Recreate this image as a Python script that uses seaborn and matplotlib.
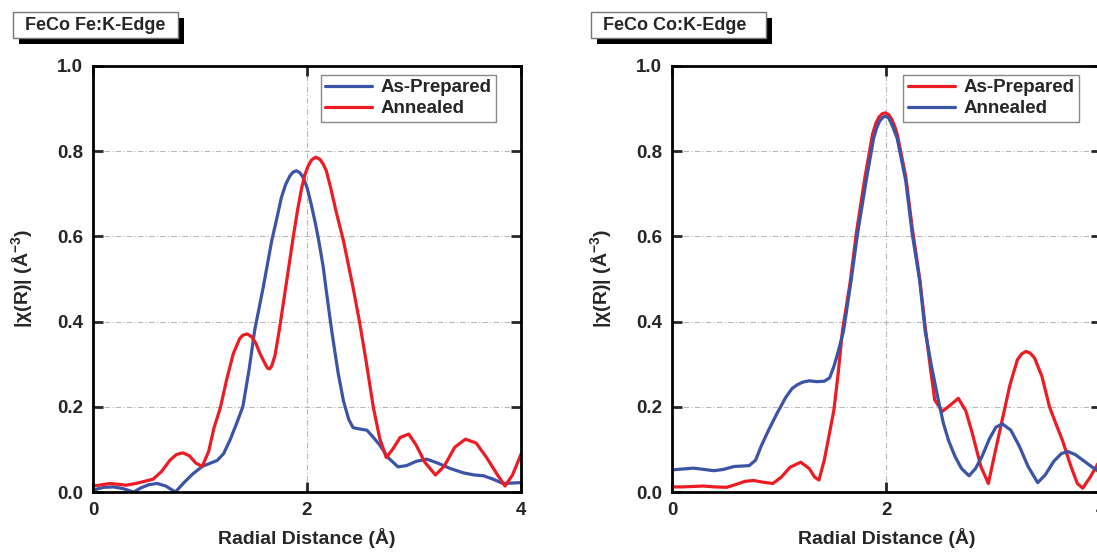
import matplotlib
matplotlib.use("Agg")
import numpy as np
import pandas as pd
import seaborn as sns
import matplotlib.pyplot as plt
from matplotlib.patches import Rectangle

# ---------------- data ----------------
fe_prep_x = [0.00, 0.05, 0.10, 0.19, 0.28, 0.38, 0.45, 0.52, 0.60, 0.68, 0.77, 0.85, 0.93, 1.02,
             1.10, 1.16, 1.22, 1.28, 1.34, 1.40, 1.46, 1.51, 1.59, 1.67, 1.72, 1.76, 1.80, 1.84,
             1.87, 1.90, 1.93, 1.96, 2.00, 2.04, 2.08, 2.11, 2.15, 2.18, 2.23, 2.29, 2.34, 2.39,
             2.43, 2.49, 2.56, 2.62, 2.68, 2.76, 2.85, 2.93, 3.02, 3.12, 3.22, 3.34, 3.46, 3.56,
             3.65, 3.74, 3.83, 3.91, 4.00]
fe_prep_y = [0.003, 0.008, 0.011, 0.012, 0.008, 0.000, 0.010, 0.017, 0.020, 0.014, 0.000, 0.022,
             0.042, 0.060, 0.068, 0.074, 0.090, 0.122, 0.160, 0.200, 0.290, 0.379, 0.480, 0.590,
             0.645, 0.691, 0.722, 0.742, 0.751, 0.754, 0.750, 0.740, 0.715, 0.674, 0.628, 0.589,
             0.530, 0.472, 0.379, 0.280, 0.214, 0.170, 0.151, 0.148, 0.145, 0.128, 0.110, 0.080,
             0.059, 0.062, 0.072, 0.077, 0.068, 0.055, 0.045, 0.040, 0.038, 0.030, 0.020, 0.021,
             0.022]

fe_ann_x = [0.00, 0.08, 0.16, 0.24, 0.31, 0.40, 0.48, 0.56, 0.64, 0.72, 0.78, 0.84, 0.90, 0.96,
            1.02, 1.08, 1.13, 1.19, 1.25, 1.31, 1.37, 1.40, 1.44, 1.48, 1.52, 1.56, 1.61, 1.63,
            1.65, 1.67, 1.70, 1.74, 1.81, 1.87, 1.91, 1.95, 1.98, 2.01, 2.04, 2.08, 2.12, 2.15,
            2.18, 2.22, 2.27, 2.34, 2.43, 2.49, 2.55, 2.62, 2.68, 2.74, 2.80, 2.87, 2.95, 3.02,
            3.10, 3.20, 3.28, 3.38, 3.48, 3.58, 3.68, 3.78, 3.85, 3.92, 4.00]
fe_ann_y = [0.014, 0.017, 0.020, 0.018, 0.016, 0.020, 0.025, 0.030, 0.048, 0.075, 0.088, 0.092,
            0.085, 0.068, 0.060, 0.095, 0.150, 0.198, 0.265, 0.324, 0.360, 0.368, 0.371, 0.365,
            0.350, 0.325, 0.300, 0.291, 0.289, 0.296, 0.320, 0.379, 0.496, 0.597, 0.660, 0.714,
            0.745, 0.765, 0.779, 0.786, 0.781, 0.770, 0.754, 0.715, 0.660, 0.590, 0.480, 0.400,
            0.310, 0.198, 0.125, 0.081, 0.100, 0.128, 0.136, 0.110, 0.070, 0.040, 0.060, 0.105,
            0.124, 0.115, 0.080, 0.040, 0.014, 0.040, 0.089]

co_prep_x = [0.00, 0.10, 0.20, 0.29, 0.40, 0.51, 0.60, 0.68, 0.76, 0.85, 0.94, 1.02, 1.10, 1.20,
             1.28, 1.33, 1.37, 1.42, 1.47, 1.51, 1.55, 1.59, 1.66, 1.72, 1.80, 1.87, 1.90, 1.93,
             1.96, 1.99, 2.02, 2.05, 2.08, 2.10, 2.18, 2.24, 2.31, 2.36, 2.41, 2.45, 2.52, 2.60,
             2.67, 2.74, 2.80, 2.88, 2.95, 3.01, 3.08, 3.15, 3.22, 3.26, 3.30, 3.34, 3.38, 3.45,
             3.52, 3.58, 3.64, 3.72, 3.78, 3.83, 3.90, 4.00]
co_prep_y = [0.012, 0.012, 0.013, 0.014, 0.012, 0.011, 0.018, 0.025, 0.027, 0.023, 0.020, 0.035,
             0.058, 0.070, 0.055, 0.035, 0.028, 0.075, 0.140, 0.193, 0.280, 0.380, 0.490, 0.610,
             0.740, 0.840, 0.865, 0.880, 0.888, 0.890, 0.886, 0.875, 0.856, 0.840, 0.740, 0.620,
             0.500, 0.390, 0.290, 0.216, 0.189, 0.205, 0.220, 0.190, 0.138, 0.060, 0.020, 0.090,
             0.170, 0.250, 0.310, 0.324, 0.330, 0.326, 0.315, 0.271, 0.200, 0.160, 0.122, 0.060,
             0.020, 0.009, 0.035, 0.079]

co_ann_x = [0.00, 0.10, 0.20, 0.30, 0.39, 0.48, 0.58, 0.66, 0.72, 0.78, 0.83, 0.90, 0.98, 1.06,
            1.12, 1.17, 1.22, 1.28, 1.35, 1.42, 1.47, 1.51, 1.55, 1.60, 1.67, 1.73, 1.81, 1.88,
            1.91, 1.94, 1.97, 1.99, 2.02, 2.04, 2.07, 2.10, 2.18, 2.24, 2.31, 2.36, 2.42, 2.48,
            2.53, 2.58, 2.64, 2.70, 2.77, 2.83, 2.89, 2.96, 3.02, 3.08, 3.16, 3.24, 3.32, 3.41,
            3.48, 3.56, 3.63, 3.69, 3.76, 3.83, 3.91, 4.00]
co_ann_y = [0.052, 0.054, 0.056, 0.053, 0.050, 0.053, 0.060, 0.061, 0.062, 0.075, 0.107, 0.145,
            0.185, 0.222, 0.243, 0.252, 0.258, 0.261, 0.259, 0.260, 0.268, 0.295, 0.330, 0.379,
            0.496, 0.606, 0.730, 0.830, 0.856, 0.872, 0.880, 0.882, 0.878, 0.868, 0.850, 0.830,
            0.730, 0.606, 0.496, 0.379, 0.295, 0.220, 0.162, 0.120, 0.083, 0.055, 0.038, 0.055,
            0.083, 0.125, 0.152, 0.160, 0.145, 0.107, 0.060, 0.022, 0.040, 0.072, 0.090, 0.095,
            0.088, 0.075, 0.060, 0.044]

x_ticks = [0, 2, 4]
x_tick_labels = ["0", "2", "4"]
y_ticks = [0.0, 0.2, 0.4, 0.6, 0.8, 1.0]
y_tick_labels = ["0.0", "0.2", "0.4", "0.6", "0.8", "1.0"]
panel_titles = ["FeCo Fe:K-Edge", "FeCo Co:K-Edge"]
series_labels = ["As-Prepared", "Annealed"]
x_label = "Radial Distance (Å)"
y_label = "|χ(R)| (Å$^{-3}$)"

RED = "#ED1C24"
BLUE = "#3B54A5"

# ---------------- style ----------------
sns.set_theme(style="ticks")
plt.rcParams["font.family"] = ["Liberation Sans", "DejaVu Sans"]
plt.rcParams["font.weight"] = "bold"
plt.rcParams["axes.labelweight"] = "bold"
plt.rcParams["mathtext.fontset"] = "custom"
plt.rcParams["mathtext.rm"] = "Liberation Sans:bold"
plt.rcParams["mathtext.it"] = "Liberation Sans:bold"
plt.rcParams["mathtext.bf"] = "Liberation Sans:bold"
plt.rcParams["mathtext.default"] = "rm"

W, H = 1097, 556
fig = plt.figure(figsize=(W / 100, H / 100), dpi=100)
ax1 = fig.add_axes([0.0848, 0.1151, 0.3902, 0.7662])
ax2 = fig.add_axes([0.6126, 0.1151, 0.3910, 0.7662])

panels = [
    (ax1, [(fe_prep_x, fe_prep_y, BLUE), (fe_ann_x, fe_ann_y, RED)], 0.942),
    (ax2, [(co_prep_x, co_prep_y, RED), (co_ann_x, co_ann_y, BLUE)], 0.949),
]

for ax, series, leg_right in panels:
    for (xs, ys, col), lab in zip(series, series_labels):
        df = pd.DataFrame({"R": xs, "chi": ys})
        sns.lineplot(data=df, x="R", y="chi", ax=ax, color=col, lw=2.3,
                     label=lab, sort=True, estimator=None)
    ax.set_xlim(0, 4)
    ax.set_ylim(0, 1.0)
    ax.set_xticks(x_ticks)
    ax.set_xticklabels(x_tick_labels)
    ax.set_yticks(y_ticks)
    ax.set_yticklabels(y_tick_labels)
    ax.grid(True, color="#b8b8b8", lw=0.8, linestyle=(0, (5, 2, 1, 2)))
    ax.set_axisbelow(True)
    ax.tick_params(direction="in", length=7, width=2, top=True, right=True,
                   labelsize=13.5, pad=7)
    for lab in ax.get_xticklabels() + ax.get_yticklabels():
        lab.set_fontweight("bold")
    for sp in ax.spines.values():
        sp.set_linewidth(2)
        sp.set_color("black")
    ax.set_xlabel(x_label, fontsize=14, fontweight="bold", labelpad=7)
    ax.set_ylabel(y_label, fontsize=14, fontweight="bold", labelpad=16)
    leg = ax.legend(loc="upper right", bbox_to_anchor=(leg_right, 0.98),
                    fancybox=False, framealpha=1, edgecolor="#888888",
                    prop={"weight": "bold", "size": 13.5}, handlelength=2.5,
                    borderpad=0.25, labelspacing=0.2, handletextpad=0.45,
                    borderaxespad=0)
    leg.get_frame().set_linewidth(1.0)

# title boxes with black drop shadow (pixel geometry from the reference)
for (bx, by, bw, bh), title in zip([(13, 12, 165, 26), (591, 12, 175, 26)], panel_titles):
    shadow = Rectangle(((bx + 6) / W, 1 - (by + bh + 6) / H), bw / W, bh / H,
                       transform=fig.transFigure, fc="black", ec="none", zorder=1)
    box = Rectangle((bx / W, 1 - (by + bh) / H), bw / W, bh / H,
                    transform=fig.transFigure, fc="white", ec="#777777", lw=1, zorder=2)
    fig.patches.extend([shadow, box])
    fig.text((bx + 12) / W, 1 - (by + bh / 2 + 1) / H, title, fontsize=13,
             fontweight="bold", ha="left", va="center", zorder=3)

fig.savefig("out.png", dpi=100)
